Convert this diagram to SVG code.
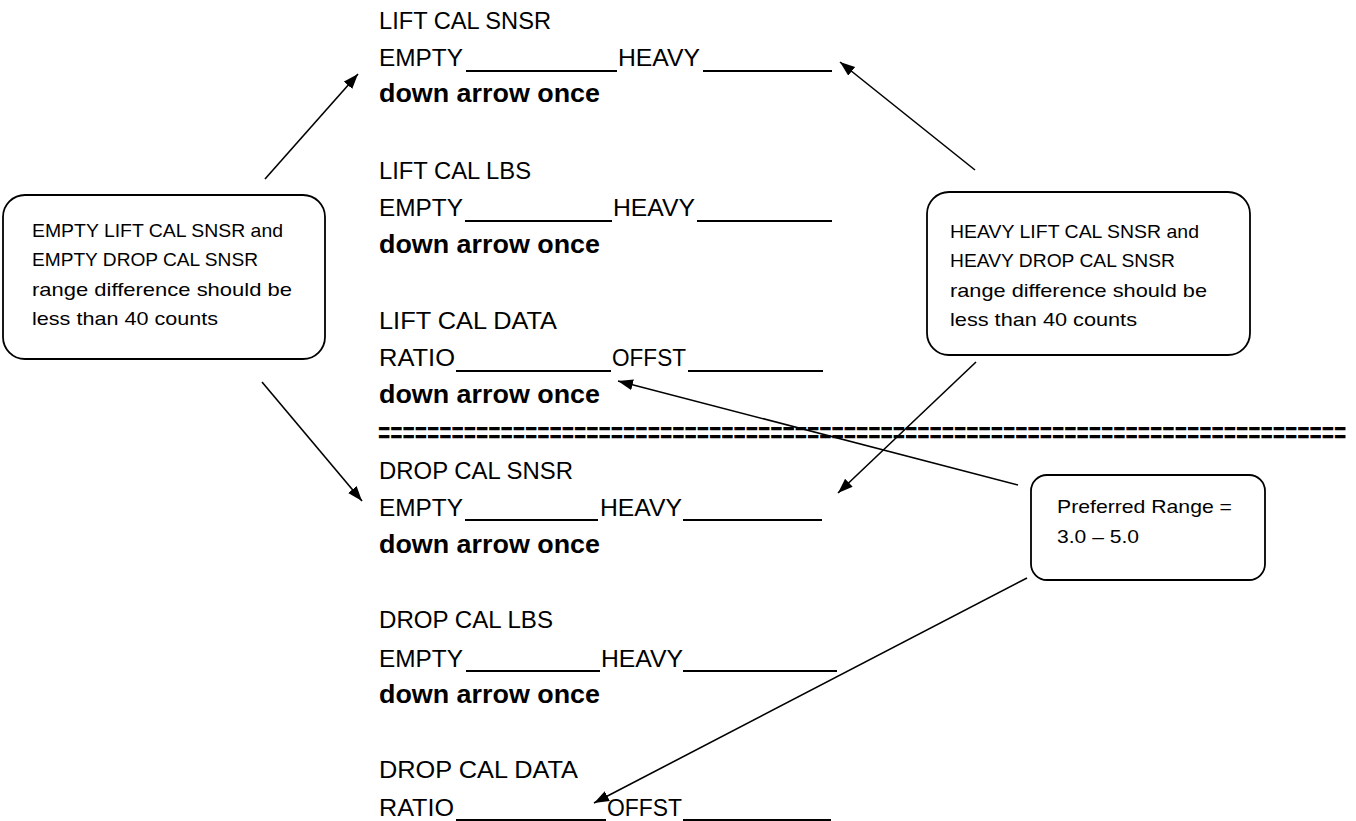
<svg xmlns="http://www.w3.org/2000/svg" width="1356" height="821" viewBox="0 0 1356 821">
<style>
text{font-family:"Liberation Sans",Arial,sans-serif;fill:#000}
.t{font-size:24px}
.b{font-size:26px;font-weight:bold}
.eq{font-size:21px;font-weight:bold}
.s{font-size:19px}
.u{stroke:#000;stroke-width:2}
.box{fill:#fff;stroke:#000;stroke-width:1.8}
.c{stroke:#000;stroke-width:1.6;fill:none;marker-end:url(#ah)}
</style>
<defs>
<marker id="ah" markerUnits="userSpaceOnUse" markerWidth="16" markerHeight="12" refX="15" refY="5.5" orient="auto">
<path d="M0,0 L15,5.5 L0,11 z" fill="#000"/>
</marker>
</defs>
<rect width="1356" height="821" fill="#fff"/>

<g id="lift-cal-snsr">
<text class="t" x="379" y="29" textLength="172" lengthAdjust="spacingAndGlyphs">LIFT CAL SNSR</text>
<text class="t" x="379" y="66" textLength="84" lengthAdjust="spacingAndGlyphs">EMPTY</text>
<line class="u" x1="466" y1="71" x2="617" y2="71"/>
<text class="t" x="618" y="66" textLength="82" lengthAdjust="spacingAndGlyphs">HEAVY</text>
<line class="u" x1="703" y1="71" x2="832" y2="71"/>
<text class="b" x="379" y="102" textLength="221" lengthAdjust="spacingAndGlyphs">down arrow once</text>
</g>

<g id="lift-cal-lbs">
<text class="t" x="379" y="178.5" textLength="152" lengthAdjust="spacingAndGlyphs">LIFT CAL LBS</text>
<text class="t" x="379" y="216" textLength="84" lengthAdjust="spacingAndGlyphs">EMPTY</text>
<line class="u" x1="465" y1="221" x2="612" y2="221"/>
<text class="t" x="613" y="216" textLength="82" lengthAdjust="spacingAndGlyphs">HEAVY</text>
<line class="u" x1="697" y1="221" x2="832" y2="221"/>
<text class="b" x="379" y="253" textLength="221" lengthAdjust="spacingAndGlyphs">down arrow once</text>
</g>

<g id="lift-cal-data">
<text class="t" x="379" y="328.5" textLength="178" lengthAdjust="spacingAndGlyphs">LIFT CAL DATA</text>
<text class="t" x="379" y="366" textLength="76" lengthAdjust="spacingAndGlyphs">RATIO</text>
<line class="u" x1="456" y1="371" x2="611" y2="371"/>
<text class="t" x="612" y="366" textLength="74" lengthAdjust="spacingAndGlyphs">OFFST</text>
<line class="u" x1="688" y1="371" x2="823" y2="371"/>
<text class="b" x="379" y="403" textLength="221" lengthAdjust="spacingAndGlyphs">down arrow once</text>
</g>

<g id="separator">
<text class="eq" transform="translate(378,442.5) scale(1,1.4)" x="0" y="0">===============================================================================</text>
</g>

<g id="drop-cal-snsr">
<text class="t" x="379" y="478.5" textLength="194" lengthAdjust="spacingAndGlyphs">DROP CAL SNSR</text>
<text class="t" x="379" y="516" textLength="84" lengthAdjust="spacingAndGlyphs">EMPTY</text>
<line class="u" x1="465" y1="520" x2="598" y2="520"/>
<text class="t" x="600" y="516" textLength="82" lengthAdjust="spacingAndGlyphs">HEAVY</text>
<line class="u" x1="683" y1="520" x2="822" y2="520"/>
<text class="b" x="379" y="553" textLength="221" lengthAdjust="spacingAndGlyphs">down arrow once</text>
</g>

<g id="drop-cal-lbs">
<text class="t" x="379" y="628" textLength="174" lengthAdjust="spacingAndGlyphs">DROP CAL LBS</text>
<text class="t" x="379" y="666.5" textLength="84" lengthAdjust="spacingAndGlyphs">EMPTY</text>
<line class="u" x1="466" y1="671" x2="600" y2="671"/>
<text class="t" x="601" y="666.5" textLength="82" lengthAdjust="spacingAndGlyphs">HEAVY</text>
<line class="u" x1="683" y1="671" x2="837" y2="671"/>
<text class="b" x="379" y="703" textLength="221" lengthAdjust="spacingAndGlyphs">down arrow once</text>
</g>

<g id="drop-cal-data">
<text class="t" x="379" y="778" textLength="199" lengthAdjust="spacingAndGlyphs">DROP CAL DATA</text>
<text class="t" x="379" y="815.5" textLength="75" lengthAdjust="spacingAndGlyphs">RATIO</text>
<line class="u" x1="456" y1="820" x2="606" y2="820"/>
<text class="t" x="607" y="815.5" textLength="75" lengthAdjust="spacingAndGlyphs">OFFST</text>
<line class="u" x1="683" y1="820" x2="831" y2="820"/>
</g>

<g id="note-empty">
<rect class="box" x="3" y="195" width="322" height="164" rx="22" ry="22"/>
<text class="s" x="32" y="236.5" textLength="251" lengthAdjust="spacingAndGlyphs">EMPTY LIFT CAL SNSR and</text>
<text class="s" x="32" y="266" textLength="226" lengthAdjust="spacingAndGlyphs">EMPTY DROP CAL SNSR</text>
<text class="s" x="32" y="296" textLength="260" lengthAdjust="spacingAndGlyphs">range difference should be</text>
<text class="s" x="32" y="325" textLength="186" lengthAdjust="spacingAndGlyphs">less than 40 counts</text>
</g>

<g id="note-heavy">
<rect class="box" x="927" y="192" width="323" height="163" rx="22" ry="22"/>
<text class="s" x="950" y="238" textLength="249" lengthAdjust="spacingAndGlyphs">HEAVY LIFT CAL SNSR and</text>
<text class="s" x="950" y="267" textLength="225" lengthAdjust="spacingAndGlyphs">HEAVY DROP CAL SNSR</text>
<text class="s" x="950" y="297" textLength="257" lengthAdjust="spacingAndGlyphs">range difference should be</text>
<text class="s" x="950" y="326" textLength="187" lengthAdjust="spacingAndGlyphs">less than 40 counts</text>
</g>

<g id="note-range">
<rect class="box" x="1031" y="475" width="234" height="105" rx="16" ry="16"/>
<text class="s" x="1057" y="513" textLength="175" lengthAdjust="spacingAndGlyphs">Preferred Range =</text>
<text class="s" x="1057" y="543" textLength="82" lengthAdjust="spacingAndGlyphs">3.0 – 5.0</text>
</g>

<g id="connectors">
<line class="c" x1="265" y1="179" x2="358" y2="74"/>
<line class="c" x1="262" y1="382" x2="362" y2="501"/>
<line class="c" x1="975" y1="170" x2="840" y2="62"/>
<line class="c" x1="976" y1="362" x2="838" y2="493"/>
<line class="c" x1="1018" y1="485" x2="618" y2="381"/>
<line class="c" x1="1027" y1="578" x2="594" y2="803"/>
</g>
</svg>
